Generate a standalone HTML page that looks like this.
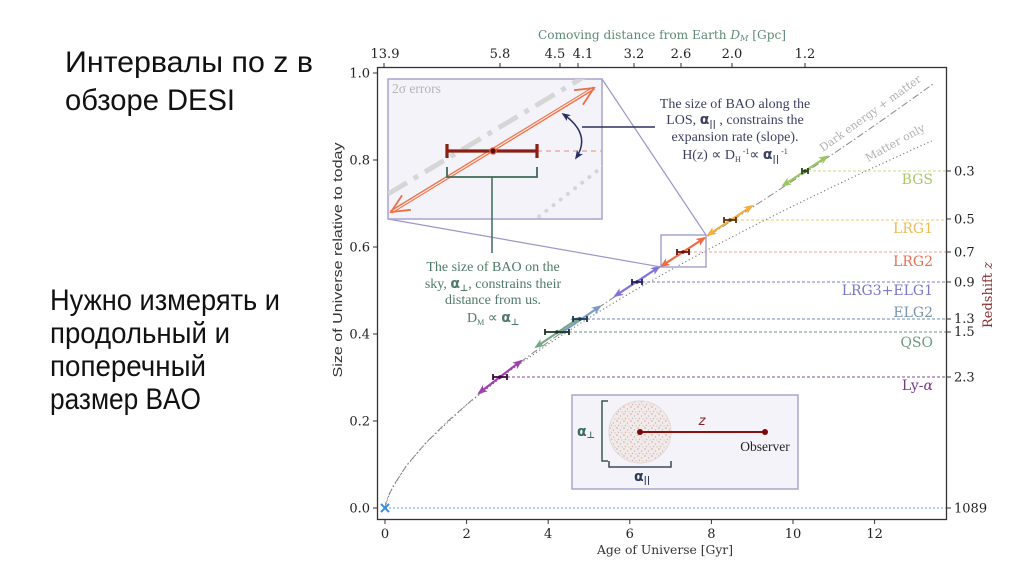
<!DOCTYPE html>
<html><head><meta charset="utf-8">
<style>
html,body{margin:0;padding:0;background:#fff;}
svg{display:block;}
</style></head><body>
<svg width="1024" height="574" viewBox="0 0 1024 574" xmlns="http://www.w3.org/2000/svg">
<defs>
 <marker id="mBGS" markerUnits="userSpaceOnUse" markerWidth="10" markerHeight="8" viewBox="0 0 10 8" refX="8" refY="4" orient="auto-start-reverse"><path d="M0,0 L10,4 L0,8 L2.5,4 z" fill="#98c860"/></marker>
 <marker id="mL1" markerUnits="userSpaceOnUse" markerWidth="10" markerHeight="8" viewBox="0 0 10 8" refX="8" refY="4" orient="auto-start-reverse"><path d="M0,0 L10,4 L0,8 L2.5,4 z" fill="#f0b040"/></marker>
 <marker id="mL2" markerUnits="userSpaceOnUse" markerWidth="10" markerHeight="8" viewBox="0 0 10 8" refX="8" refY="4" orient="auto-start-reverse"><path d="M0,0 L10,4 L0,8 L2.5,4 z" fill="#ee6c44"/></marker>
 <marker id="mL3" markerUnits="userSpaceOnUse" markerWidth="10" markerHeight="8" viewBox="0 0 10 8" refX="8" refY="4" orient="auto-start-reverse"><path d="M0,0 L10,4 L0,8 L2.5,4 z" fill="#8472dc"/></marker>
 <marker id="mE2" markerUnits="userSpaceOnUse" markerWidth="10" markerHeight="8" viewBox="0 0 10 8" refX="8" refY="4" orient="auto-start-reverse"><path d="M0,0 L10,4 L0,8 L2.5,4 z" fill="#7c9ac4"/></marker>
 <marker id="mQ" markerUnits="userSpaceOnUse" markerWidth="10" markerHeight="8" viewBox="0 0 10 8" refX="8" refY="4" orient="auto-start-reverse"><path d="M0,0 L10,4 L0,8 L2.5,4 z" fill="#78a888"/></marker>
 <marker id="mLy" markerUnits="userSpaceOnUse" markerWidth="10" markerHeight="8" viewBox="0 0 10 8" refX="8" refY="4" orient="auto-start-reverse"><path d="M0,0 L10,4 L0,8 L2.5,4 z" fill="#a040b0"/></marker>
 <marker id="mNav" markerUnits="userSpaceOnUse" markerWidth="9" markerHeight="8" viewBox="0 0 10 8" refX="8" refY="4" orient="auto-start-reverse"><path d="M0,0 L10,4 L0,8 L2.5,4 z" fill="#2a3060"/></marker>
 <clipPath id="inset"><rect x="388" y="79" width="214" height="140"/></clipPath>
 <pattern id="speck" width="7" height="7" patternUnits="userSpaceOnUse">
  <rect width="7" height="7" fill="#f3ebe9"/>
  <circle cx="1" cy="1" r="0.8" fill="#c9a9a6"/>
  <circle cx="4.5" cy="3" r="0.7" fill="#b8bccc"/>
  <circle cx="2.5" cy="5.5" r="0.7" fill="#d4b4b0"/>
  <circle cx="6" cy="6" r="0.6" fill="#c0c0c8"/>
 </pattern>
</defs>
<rect width="1024" height="574" fill="#fff"/>

<!-- Left slide text -->
<g font-family="Liberation Sans, sans-serif" font-size="30" fill="#111">
 <text x="65" y="72" textLength="248" lengthAdjust="spacingAndGlyphs">Интервалы по z в</text>
 <text x="65" y="110" textLength="170" lengthAdjust="spacingAndGlyphs">обзоре DESI</text>
 <text x="50" y="310" textLength="230" lengthAdjust="spacingAndGlyphs">Нужно измерять и</text>
 <text x="50" y="343" textLength="180" lengthAdjust="spacingAndGlyphs">продольный и</text>
 <text x="50" y="376" textLength="156" lengthAdjust="spacingAndGlyphs">поперечный</text>
 <text x="50" y="409" textLength="151" lengthAdjust="spacingAndGlyphs">размер BAO</text>
</g>

<!-- Axis titles -->
<text x="538" y="39" font-family="DejaVu Serif, serif" font-size="12" fill="#5e8a76" textLength="248" lengthAdjust="spacingAndGlyphs">Comoving distance from Earth <tspan font-style="italic">D</tspan><tspan font-style="italic" font-size="8" dy="2">M</tspan><tspan dy="-2"> [Gpc]</tspan></text>
<text x="665" y="554" text-anchor="middle" font-family="DejaVu Serif, serif" font-size="12.5" fill="#333" textLength="136" lengthAdjust="spacingAndGlyphs">Age of Universe [Gyr]</text>
<text transform="translate(342,260) rotate(-90)" text-anchor="middle" font-family="Liberation Sans, sans-serif" font-size="13" fill="#333" textLength="235" lengthAdjust="spacingAndGlyphs">Size of Universe relative to today</text>
<text transform="translate(992,295) rotate(-90)" text-anchor="middle" font-family="DejaVu Serif, serif" font-size="13" fill="#8a3030">Redshift <tspan font-style="italic">z</tspan></text>

<!-- Horizontal dashed lines -->
<g stroke-width="1" stroke-dasharray="3,2" fill="none">
 <line x1="808" y1="171" x2="946" y2="171" stroke="#c4dc80"/>
 <line x1="736" y1="220" x2="946" y2="220" stroke="#f0c870"/>
 <line x1="689" y1="252" x2="946" y2="252" stroke="#f0a088"/>
 <line x1="642" y1="282" x2="946" y2="282" stroke="#7c7cc8"/>
 <line x1="587" y1="319" x2="946" y2="319" stroke="#6c8cb4"/>
 <line x1="569" y1="332" x2="946" y2="332" stroke="#6c9080"/>
 <line x1="507" y1="377" x2="946" y2="377" stroke="#8a4a9a"/>
 <line x1="385" y1="508" x2="946" y2="508" stroke="#5aa8e0" stroke-dasharray="2,2"/>
</g>

<!-- Curves -->
<polyline fill="none" stroke="#777" stroke-width="1.1" stroke-dasharray="1.2,2.6" points="385,508 389.1,494 405.4,467 425.8,442.9 466.6,404.7 507.4,372.7 548.2,344.1 589,317.8 629.8,293.2 670.6,269.9 711.4,247.8 752.2,226.5 793,206 833.8,186.2 874.6,167 915.4,148.3 931.7,141"/>
<polyline fill="none" stroke="#888" stroke-width="1" stroke-dasharray="7,2.5,1.5,2.5" points="385,508 385.7,503.6 387,499.3 392.9,486.3 407.3,464.5 425.9,442.8 447.9,421 472.7,399.3 499.8,377.5 528.9,355.8 559.5,334 591.4,312.3 624.1,290.5 657.4,268.8 691.1,247 724.7,225.3 758.2,203.5 791.3,181.8 824,160 856,138.3 887.4,116.5 918,94.8 933,84"/>
<text transform="translate(823,152) rotate(-35.8)" font-family="DejaVu Serif, serif" font-size="11" fill="#b0b0b0" textLength="122" lengthAdjust="spacingAndGlyphs">Dark energy + matter</text>
<text transform="translate(868,162) rotate(-29)" font-family="DejaVu Serif, serif" font-size="11" fill="#b0b0b0" textLength="66" lengthAdjust="spacingAndGlyphs">Matter only</text>

<!-- Tracer arrows -->
<g stroke-width="2.2" fill="none">
 <line x1="783" y1="185.5" x2="827" y2="156.5" stroke="#98c860" marker-start="url(#mBGS)" marker-end="url(#mBGS)"/>
 <line x1="708" y1="235" x2="752" y2="206" stroke="#f0b040" marker-start="url(#mL1)" marker-end="url(#mL1)"/>
 <line x1="661.5" y1="266" x2="704.5" y2="238" stroke="#ee6c44" marker-start="url(#mL2)" marker-end="url(#mL2)"/>
 <line x1="615" y1="296" x2="659" y2="267" stroke="#8472dc" marker-start="url(#mL3)" marker-end="url(#mL3)"/>
 <line x1="560" y1="333.6" x2="600" y2="306.4" stroke="#7c9ac4" marker-start="url(#mE2)" marker-end="url(#mE2)"/>
 <line x1="536" y1="347" x2="579" y2="318" stroke="#78a888" marker-start="url(#mQ)" marker-end="url(#mQ)"/>
 <line x1="479" y1="393" x2="521" y2="361" stroke="#a040b0" marker-start="url(#mLy)" marker-end="url(#mLy)"/>
</g>

<!-- Error bars -->
<g stroke-width="1.8" fill="none">
 <path d="M802,171 H808 M802,168 V174 M808,168 V174" stroke="#2c4818"/>
 <path d="M724,220 H736 M724,217 V223 M736,217 V223" stroke="#5a3010"/>
 <path d="M677,252 H689 M677,249 V255 M689,249 V255" stroke="#6a1008"/>
 <path d="M632,282 H642 M632,279 V285 M642,279 V285" stroke="#1e1e5a"/>
 <path d="M573,319 H587 M573,316 V322 M587,316 V322" stroke="#1c3658"/>
 <path d="M545,332 H569 M545,329 V335 M569,329 V335" stroke="#1a3626"/>
 <path d="M493,377 H507 M493,374 V380 M507,374 V380" stroke="#3a0a3a"/>
</g>
<g>
 <circle cx="805" cy="171" r="1.8" fill="#2c4818"/>
 <circle cx="730" cy="220" r="1.8" fill="#5a3010"/>
 <circle cx="683" cy="252" r="1.8" fill="#6a1008"/>
 <circle cx="637" cy="282" r="1.8" fill="#1e1e5a"/>
 <circle cx="580" cy="319" r="1.8" fill="#1c3658"/>
 <circle cx="557" cy="332" r="1.8" fill="#1a3626"/>
 <circle cx="500" cy="377" r="1.8" fill="#3a0a3a"/>
</g>
<path d="M381,504 L389,512 M389,504 L381,512" stroke="#3a8ee0" stroke-width="2"/>

<!-- Tracer labels -->
<g font-family="DejaVu Serif, serif" font-size="14" text-anchor="end">
 <text x="933" y="184" fill="#a8c864">BGS</text>
 <text x="933" y="233" fill="#e8bc58">LRG1</text>
 <text x="933" y="266" fill="#e47058">LRG2</text>
 <text x="933" y="295" fill="#7a76c8">LRG3+ELG1</text>
 <text x="933" y="317" fill="#7892b0">ELG2</text>
 <text x="933" y="347" fill="#6c9a80">QSO</text>
 <text x="933" y="390" fill="#7a3488">Ly-<tspan font-style="italic">α</tspan></text>
</g>

<!-- Zoom box & connectors -->
<rect x="661" y="235" width="45" height="32" fill="none" stroke="#9c96c8" stroke-width="1.3"/>
<line x1="602" y1="79" x2="706" y2="235" stroke="#9c96c8" stroke-width="1.2"/>
<line x1="388" y1="219" x2="661" y2="267" stroke="#9c96c8" stroke-width="1.2"/>

<!-- Inset -->
<rect x="388" y="79" width="214" height="140" fill="#f4f3fa" stroke="#a8a2d0" stroke-width="1.5"/>
<g clip-path="url(#inset)">
 <line x1="388" y1="194" x2="602" y2="66" stroke="#d6d6d6" stroke-width="5" stroke-dasharray="22,8,5,8"/>
 <line x1="532" y1="222" x2="606" y2="164" stroke="#d4d4da" stroke-width="4" stroke-linecap="round" stroke-dasharray="0.1,9"/>
 <line x1="537" y1="151" x2="602" y2="151" stroke="#e8a090" stroke-width="1.2" stroke-dasharray="5,4"/>
 <g fill="none" stroke-linejoin="miter">
  <line x1="391" y1="212" x2="594" y2="88" stroke="#ec7048" stroke-width="3.6"/>
  <line x1="393" y1="211" x2="592" y2="89" stroke="#fde8de" stroke-width="1.2"/>
  <polyline points="574.1,90.2 594,88 582.9,104.7" stroke="#ec7048" stroke-width="1.8"/>
  <polyline points="410.9,209.8 391,212 402.1,195.3" stroke="#ec7048" stroke-width="1.8"/>
 </g>
 <path d="M447,151 H537 M447,144 V158 M537,144 V158" stroke="#8b1e12" stroke-width="3.2" fill="none"/>
 <circle cx="493" cy="151" r="3.2" fill="#5a0a0a" stroke="#e86a40" stroke-width="1.2"/>
 <text x="392" y="93" font-family="Liberation Serif, serif" font-size="13.5" fill="#b4b4b8">2σ errors</text>
</g>
<path d="M447,167 V177 H537 V167" fill="none" stroke="#3e6a58" stroke-width="1.8"/>
<line x1="492" y1="177" x2="492" y2="253" stroke="#3e6a58" stroke-width="1.5"/>
<path d="M563,114 Q592,134 576,158" fill="none" stroke="#2a3060" stroke-width="1.5" marker-start="url(#mNav)" marker-end="url(#mNav)"/>
<line x1="582" y1="127" x2="655" y2="127" stroke="#2a3060" stroke-width="1.4"/>

<!-- Annotation texts -->
<g font-family="Liberation Serif, serif" font-size="14" fill="#3c4060" text-anchor="middle">
 <text x="735" y="108">The size of BAO along the</text>
 <text x="735" y="124">LOS, <tspan font-family="DejaVu Sans, sans-serif" font-weight="bold">α</tspan><tspan font-family="DejaVu Sans, sans-serif" font-weight="bold" font-size="9" dy="3">||</tspan><tspan dy="-3"> , constrains the</tspan></text>
 <text x="735" y="141">expansion rate (slope).</text>
 <text x="735" y="159">H(z) ∝ D<tspan font-size="8" dy="3">H</tspan><tspan font-size="8" dy="-8"> -1</tspan><tspan dy="5">∝ </tspan><tspan font-family="DejaVu Sans, sans-serif" font-weight="bold">α</tspan><tspan font-family="DejaVu Sans, sans-serif" font-weight="bold" font-size="9" dy="3">||</tspan><tspan font-size="8" dy="-8"> -1</tspan></text>
</g>
<g font-family="Liberation Serif, serif" font-size="14" fill="#507a68" text-anchor="middle">
 <text x="493" y="271">The size of BAO on the</text>
 <text x="493" y="288">sky, <tspan font-family="DejaVu Sans, sans-serif" font-weight="bold">α</tspan><tspan font-family="DejaVu Sans, sans-serif" font-weight="bold" font-size="9" dy="3">⊥</tspan><tspan dy="-3">, constrains their</tspan></text>
 <text x="493" y="304">distance from us.</text>
 <text x="493" y="322">D<tspan font-size="8" dy="3">M</tspan><tspan dy="-3"> ∝ </tspan><tspan font-family="DejaVu Sans, sans-serif" font-weight="bold">α</tspan><tspan font-family="DejaVu Sans, sans-serif" font-weight="bold" font-size="9" dy="3">⊥</tspan></text>
</g>

<!-- Legend box -->
<rect x="572" y="395" width="226" height="94" fill="#f4f3f9" stroke="#aaa6cc" stroke-width="1.5"/>
<path d="M608,401 H602 V461 H608" fill="none" stroke="#3a5a4a" stroke-width="1.5"/>
<text x="577" y="436" font-family="DejaVu Sans, sans-serif" font-weight="bold" font-size="14" fill="#3a6a60">α<tspan font-size="9" dy="2">⊥</tspan></text>
<circle cx="640" cy="432" r="31" fill="url(#speck)" stroke="#e6d8d6" stroke-width="1"/>
<line x1="640" y1="432" x2="765" y2="432" stroke="#8a1010" stroke-width="2"/>
<circle cx="640" cy="432" r="3" fill="#7a0a0a"/>
<circle cx="765" cy="432" r="3" fill="#7a0a0a"/>
<text x="702" y="425" font-family="DejaVu Sans, sans-serif" font-style="italic" font-size="13" fill="#8a2020" text-anchor="middle">z</text>
<text x="765" y="451" font-family="Liberation Serif, serif" font-size="13.5" fill="#222" text-anchor="middle">Observer</text>
<path d="M609,461 V467 H671 V461" fill="none" stroke="#3a4a5a" stroke-width="1.5"/>
<text x="634" y="481" font-family="DejaVu Sans, sans-serif" font-weight="bold" font-size="14" fill="#2a3a5a">α<tspan font-size="9" dy="2">||</tspan></text>

<!-- Frame -->
<rect x="377.5" y="67.5" width="569" height="452" fill="none" stroke="#333" stroke-width="1.3"/>

<!-- Ticks -->
<g stroke="#333" stroke-width="1">
 <path d="M373,73 H377.5 M373,160 H377.5 M373,247 H377.5 M373,334 H377.5 M373,421 H377.5 M373,508 H377.5"/>
 <path d="M385,519.5 V524 M466.6,519.5 V524 M548.2,519.5 V524 M629.8,519.5 V524 M711.4,519.5 V524 M793,519.5 V524 M874.6,519.5 V524"/>
 <path d="M384,63 V67.5 M500,63 V67.5 M560,63 V67.5 M578,63 V67.5 M634,63 V67.5 M681,63 V67.5 M732,63 V67.5 M805,63 V67.5"/>
 <path d="M946.5,171 H951 M946.5,219 H951 M946.5,252 H951 M946.5,282 H951 M946.5,319 H951 M946.5,332 H951 M946.5,377 H951 M946.5,508 H951"/>
</g>
<g font-family="DejaVu Serif, serif" font-size="13" fill="#222">
 <g text-anchor="end">
  <text x="370" y="77.5">1.0</text>
  <text x="370" y="164.5">0.8</text>
  <text x="370" y="251.5">0.6</text>
  <text x="370" y="338.5">0.4</text>
  <text x="370" y="425.5">0.2</text>
  <text x="370" y="512.5">0.0</text>
 </g>
 <g text-anchor="middle">
  <text x="385" y="538">0</text>
  <text x="466.6" y="538">2</text>
  <text x="548.2" y="538">4</text>
  <text x="629.8" y="538">6</text>
  <text x="711.4" y="538">8</text>
  <text x="793" y="538">10</text>
  <text x="874.6" y="538">12</text>
  <text x="385" y="58">13.9</text>
  <text x="500" y="58">5.8</text>
  <text x="555" y="58">4.5</text>
  <text x="583" y="58">4.1</text>
  <text x="634" y="58">3.2</text>
  <text x="681" y="58">2.6</text>
  <text x="732" y="58">2.0</text>
  <text x="805" y="58">1.2</text>
 </g>
 <text x="954" y="175.5">0.3</text>
 <text x="954" y="223.5">0.5</text>
 <text x="954" y="256.5">0.7</text>
 <text x="954" y="286.5">0.9</text>
 <text x="954" y="323">1.3</text>
 <text x="954" y="336">1.5</text>
 <text x="954" y="381.5">2.3</text>
 <text x="954" y="512.5">1089</text>
</g>
</svg>
</body></html>
